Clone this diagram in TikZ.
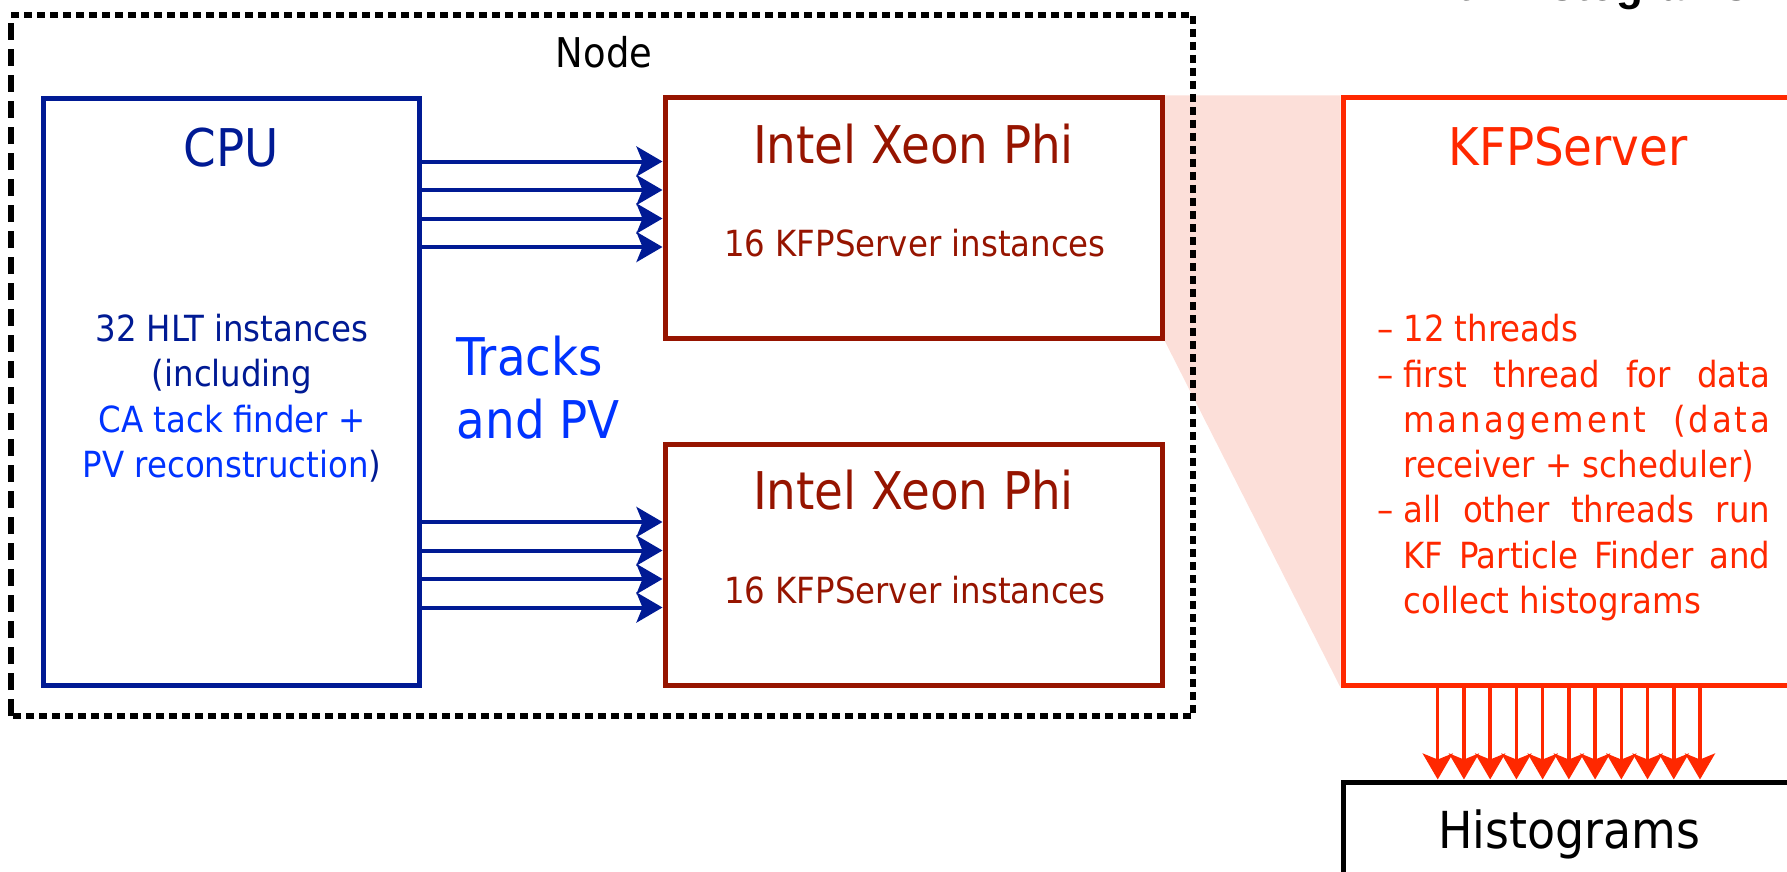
\documentclass[tikz,border=0pt]{standalone}
\usepackage{fontspec}
\setmainfont{DejaVu Sans Condensed}
\newfontfamily\headfont{Liberation Sans}
\usetikzlibrary{arrows.meta,backgrounds}
\definecolor{cpublue}{RGB}{0,26,148}
\definecolor{brightblue}{RGB}{0,51,255}
\definecolor{xeonred}{RGB}{150,20,0}
\definecolor{kfpred}{RGB}{255,40,0}
\definecolor{pinkfill}{RGB}{252,223,217}
\newcommand\fsBig{\fontsize{52}{62}\selectfont}
\newcommand\fsBody{\fontsize{36}{45.3}\selectfont}
\newcommand\fsNode{\fontsize{41}{50}\selectfont}
\begin{document}
\begin{tikzpicture}[x=1pt,y=-1pt,
  cpubox/.style={draw=cpublue, line width=5pt, rectangle, inner sep=0pt},
  xeonbox/.style={draw=xeonred, line width=5pt, rectangle, inner sep=0pt},
  kfpbox/.style={draw=kfpred, line width=5pt, rectangle, inner sep=0pt},
  histbox/.style={draw=black, line width=5pt, rectangle, inner sep=0pt},
  cpuarrow/.style={draw=cpublue, line width=4pt, -{Stealth[length=26pt,width=30pt,inset=6pt]}},
  kfparrow/.style={draw=kfpred, line width=3.5pt, -{Stealth[length=26pt,width=30pt,inset=6pt]}},
  framedot/.style={draw=black, line width=5.5pt, dash pattern=on 8pt off 5pt},
  framelong/.style={draw=black, line width=5.5pt, dash pattern=on 17pt off 9pt},
  txt/.style={inner sep=0pt}
]
\useasboundingbox (0,0) rectangle (1787,872);
\clip (0,0) rectangle (1787,872);

% cut-off heading at the top
\node[txt, anchor=base, font=\headfont\bfseries\fontsize{44}{50}\selectfont] (toptitle) at (1580,1) {with histograms};

% node frame
\coordinate (fnw) at (11,15);
\coordinate (fne) at (1193,15);
\coordinate (fse) at (1193,716);
\coordinate (fsw) at (11,716);

% boxes
\node[cpubox, minimum width=376pt, minimum height=586pt] (cpu) at (231,392) {};
\node[xeonbox, minimum width=497pt, minimum height=240pt] (xeon1) at (913.5,218) {};
\node[xeonbox, minimum width=497pt, minimum height=241pt] (xeon2) at (913.5,564.5) {};
\node[kfpbox, minimum width=452pt, minimum height=587pt] (kfp) at (1569,391.5) {};
\node[histbox, minimum width=452pt, minimum height=96pt, text height=40pt, text depth=4pt, font=\fontsize{51}{60}\selectfont] (hist) at (1569,830) {Histograms};

% pink zoom wedge
\begin{scope}[on background layer]
\fill[pinkfill] (xeon1.north east) -- (kfp.north west) -- (kfp.south west) -- (xeon1.south east) -- cycle;
\end{scope}

% dashed node frame
\draw[framedot] (fnw) -- (fne) -- (fse) -- (fsw);
\draw[framelong] (fsw) -- (fnw);

% texts
\node[txt, anchor=base, font=\fsNode] (nodelabel) at (604,68) {Node};
\node[txt, anchor=base, text=cpublue, font=\fsBig] (cputitle) at (231,166) {CPU};
\node[txt, anchor=base, text=cpublue, font=\fsBody] (cpubody) at (232,341.5)
  {\begin{tabular}[t]{@{}c@{}}32 HLT instances\\(including\\\textcolor{brightblue}{CA tack finder +}\\\textcolor{brightblue}{PV reconstruction})\end{tabular}};
\node[txt, anchor=base west, text=brightblue, font=\fontsize{52}{63}\selectfont] (tracks) at (456.7,375)
  {\begin{tabular}[t]{@{}l@{}}Tracks\\and PV\end{tabular}};

\node[txt, anchor=base, text=xeonred, font=\fsBig] (x1title) at (913.5,163.3) {Intel Xeon Phi};
\node[txt, anchor=base, text=xeonred, font=\fsBody] (x1sub) at (915,256.7) {16 KFPServer instances};
\node[txt, anchor=base, text=xeonred, font=\fsBig] (x2title) at (913.5,509.8) {Intel Xeon Phi};
\node[txt, anchor=base, text=xeonred, font=\fsBody] (x2sub) at (915,603.2) {16 KFPServer instances};

\node[txt, anchor=base, text=kfpred, font=\fsBig] (kfptitle) at (1568,165) {KFPServer};
\node[txt, anchor=base west, text=kfpred, font=\fsBody] (kfptext) at (1403.3,341.7)
  {\parbox[t]{366.7pt}{\fsBody\noindent
   \llap{–\hspace{10pt}}12 threads\\
   \llap{–\hspace{10pt}}\makebox[366.7pt][s]{first thread for data}\\
   {\addfontfeature{LetterSpace=8}\makebox[366.7pt][s]{management (data}}\\
   receiver + scheduler)\\
   \llap{–\hspace{10pt}}\makebox[366.7pt][s]{all other threads run}\\
   \makebox[366.7pt][s]{KF Particle Finder and}\\
   collect histograms}};

% CPU -> Xeon arrows
\foreach \yy [count=\k] in {161.5,190,218.5,247} {
  \coordinate (ya\k) at (0,\yy);
  \draw[cpuarrow] (cpu.east |- ya\k) -- (xeon1.west |- ya\k);
}
\foreach \yy [count=\k] in {522,550.5,579,607.5} {
  \coordinate (yb\k) at (0,\yy);
  \draw[cpuarrow] (cpu.east |- yb\k) -- (xeon2.west |- yb\k);
}

% KFPServer -> Histograms arrows
\foreach \i [evaluate=\i as \xx using 1437.7+26.23*\i] in {0,...,10} {
  \coordinate (t\i) at (\xx,0);
  \draw[kfparrow] (kfp.south -| t\i) -- (hist.north -| t\i);
}
\end{tikzpicture}
\end{document}
